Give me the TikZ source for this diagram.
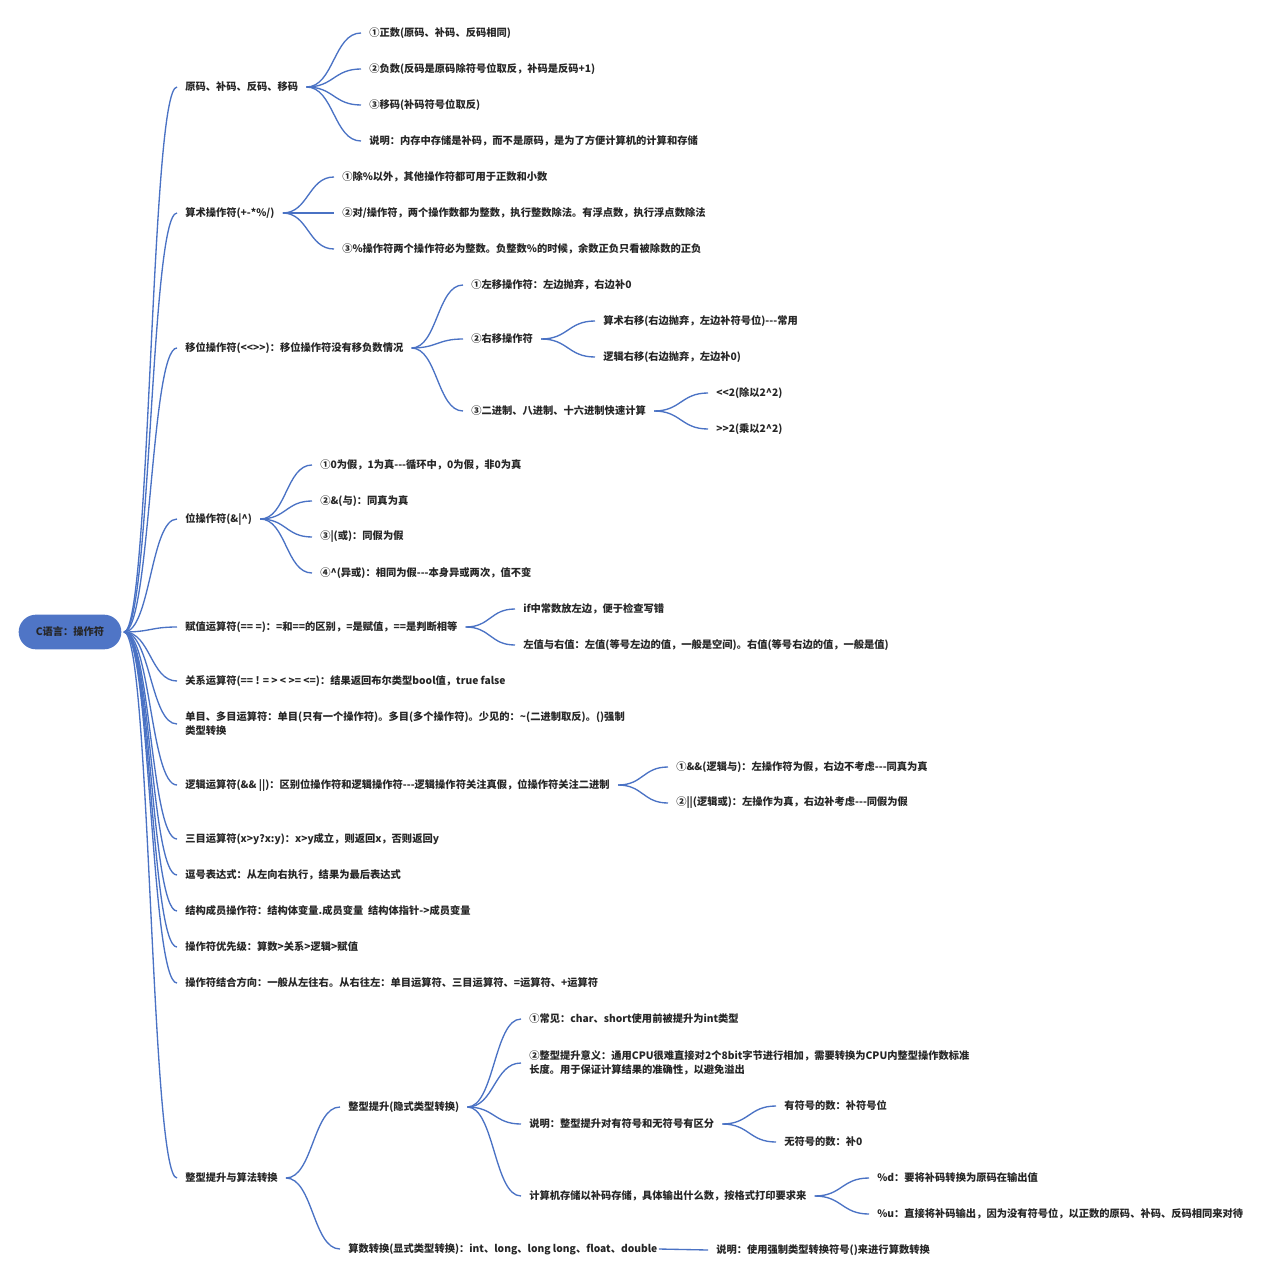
\documentclass[tikz,border=0pt]{standalone}
\usepackage{fontspec}
\setmainfont{Noto Sans CJK SC}[Ligatures=TeXOff]
\usetikzlibrary{calc}
\definecolor{linkblue}{HTML}{4A72C4}
\definecolor{rootblue}{HTML}{4F75C6}
\definecolor{textgray}{HTML}{262626}

\begin{document}
\begin{tikzpicture}
			[x=0.75pt,y=-0.75pt,
			 every node/.style={anchor=west,inner xsep=6pt,inner ysep=2pt,text=textgray,
			   align=left,font=\fontsize{7.7}{10.5}\selectfont\bfseries},
			 root/.style={anchor=center,fill=rootblue,rounded corners=13pt,
			   minimum width=77pt,minimum height=26pt,outer sep=2pt},
			 link/.style={draw=linkblue,line width=1pt,
			   to path={.. controls ($(\tikztostart)!0.5!(\tikztostart-|\tikztotarget)$)
			     and ($(\tikztotarget)!0.5!(\tikztotarget-|\tikztostart)$) .. (\tikztotarget)}}]
			\useasboundingbox (0,-1) rectangle (1266,1279);

			\node (r) [root] at (70,631) {C语言：操作符};

			% first level
			\node (a) at (177,86) {原码、补码、反码、移码};
			\node (b) at (177,212) {算术操作符(+-*\%/)};
			\node (c) at (177,347) {移位操作符(<<>>)：移位操作符没有移负数情况};
			\node (d) at (177,518) {位操作符(\&|\^{})};
			\node (e) at (177,626) {赋值运算符(== =)：=和==的区别，=是赋值，==是判断相等};
			\node (f) at (177,680) {关系运算符(== ! = > < >= <=)：结果返回布尔类型bool值，true false};
			\node (g) at (177,723) {单目、多目运算符：单目(只有一个操作符)。多目(多个操作符)。少见的：\textasciitilde(二进制取反)。()强制\\类型转换};
			\node (h) at (177,784) {逻辑运算符(\&\& ||)：区别位操作符和逻辑操作符---逻辑操作符关注真假，位操作符关注二进制};
			\node (i) at (177,838) {三目运算符(x>y?x:y)：x>y成立，则返回x，否则返回y};
			\node (j) at (177,874) {逗号表达式：从左向右执行，结果为最后表达式};
			\node (k) at (177,910) {结构成员操作符：结构体变量.成员变量\ \ 结构体指针->成员变量};
			\node (l) at (177,946) {操作符优先级：算数>关系>逻辑>赋值};
			\node (m) at (177,982) {操作符结合方向：一般从左往右。从右往左：单目运算符、三目运算符、=运算符、+运算符};
			\node (n) at (177,1177) {整型提升与算法转换};

			% second level
			\node (a1) at (361,32) {①正数(原码、补码、反码相同)};
			\node (a2) at (361,68) {②负数(反码是原码除符号位取反，补码是反码+1)};
			\node (a3) at (361,104) {③移码(补码符号位取反)};
			\node (a4) at (361,140) {说明：内存中存储是补码，而不是原码，是为了方便计算机的计算和存储};

			\node (b1) at (334,176) {①除\%以外，其他操作符都可用于正数和小数};
			\node (b2) at (334,212) {②对/操作符，两个操作数都为整数，执行整数除法。有浮点数，执行浮点数除法};
			\node (b3) at (334,248) {③\%操作符两个操作符必为整数。负整数\%的时候，余数正负只看被除数的正负};

			\node (c1) at (463,284) {①左移操作符：左边抛弃，右边补0};
			\node (c2) at (463,338) {②右移操作符};
			\node (c3) at (463,410) {③二进制、八进制、十六进制快速计算};
			\node (c21) at (595,320) {算术右移(右边抛弃，左边补符号位)---常用};
			\node (c22) at (595,356) {逻辑右移(右边抛弃，左边补0)};
			\node (c31) at (708,392) {<<2(除以2\^{}2)};
			\node (c32) at (708,428) {>>2(乘以2\^{}2)};

			\node (d1) at (312,464) {①0为假，1为真---循环中，0为假，非0为真};
			\node (d2) at (312,500) {②\&(与)：同真为真};
			\node (d3) at (312,536) {③|(或)：同假为假};
			\node (d4) at (312,572) {④\^{}(异或)：相同为假---本身异或两次，值不变};

			\node (e1) at (515,608) {if中常数放左边，便于检查写错};
			\node (e2) at (515,644) {左值与右值：左值(等号左边的值，一般是空间)。右值(等号右边的值，一般是值)};

			\node (h1) at (668,766) {①\&\&(逻辑与)：左操作符为假，右边不考虑---同真为真};
			\node (h2) at (668,802) {②||(逻辑或)：左操作为真，右边补考虑---同假为假};

			\node (n1) at (340,1106) {整型提升(隐式类型转换)};
			\node (n2) at (340,1248) {算数转换(显式类型转换)：int、long、long long、float、double};
			\node (n11) at (521,1018) {①常见：char、short使用前被提升为int类型};
			\node (n12) at (521,1062) {②整型提升意义：通用CPU很难直接对2个8bit字节进行相加，需要转换为CPU内整型操作数标准\\长度。用于保证计算结果的准确性，以避免溢出};
			\node (n13) at (521,1123) {说明：整型提升对有符号和无符号有区分};
			\node (n14) at (521,1195) {计算机存储以补码存储，具体输出什么数，按格式打印要求来};
			\node (n131) at (776,1105) {有符号的数：补符号位};
			\node (n132) at (776,1141) {无符号的数：补0};
			\node (n141) at (869,1177) {\%d：要将补码转换为原码在输出值};
			\node (n142) at (869,1213) {\%u：直接将补码输出，因为没有符号位，以正数的原码、补码、反码相同来对待};
			\node (n21) at (708,1249) {说明：使用强制类型转换符号()来进行算数转换};

			% connectors
			\foreach \t in {a,b,c,d,e,f,g,h,i,j,k,l,m,n}
			  \draw [link] (r.east) to (\t.west);
			\foreach \t in {a1,a2,a3,a4}
			  \draw [link] (a.east) to (\t.west);
			\foreach \t in {b1,b2,b3}
			  \draw [link] (b.east) to (\t.west);
			\foreach \t in {c1,c2,c3}
			  \draw [link] (c.east) to (\t.west);
			\foreach \t in {c21,c22}
			  \draw [link] (c2.east) to (\t.west);
			\foreach \t in {c31,c32}
			  \draw [link] (c3.east) to (\t.west);
			\foreach \t in {d1,d2,d3,d4}
			  \draw [link] (d.east) to (\t.west);
			\foreach \t in {e1,e2}
			  \draw [link] (e.east) to (\t.west);
			\foreach \t in {h1,h2}
			  \draw [link] (h.east) to (\t.west);
			\foreach \t in {n1,n2}
			  \draw [link] (n.east) to (\t.west);
			\foreach \t in {n11,n12,n13,n14}
			  \draw [link] (n1.east) to (\t.west);
			\foreach \t in {n131,n132}
			  \draw [link] (n13.east) to (\t.west);
			\foreach \t in {n141,n142}
			  \draw [link] (n14.east) to (\t.west);
			\draw [draw=linkblue,line width=1pt] ([xshift=-5pt]n2.east) -- (n21.west);
	  \end{tikzpicture}
\end{document}
